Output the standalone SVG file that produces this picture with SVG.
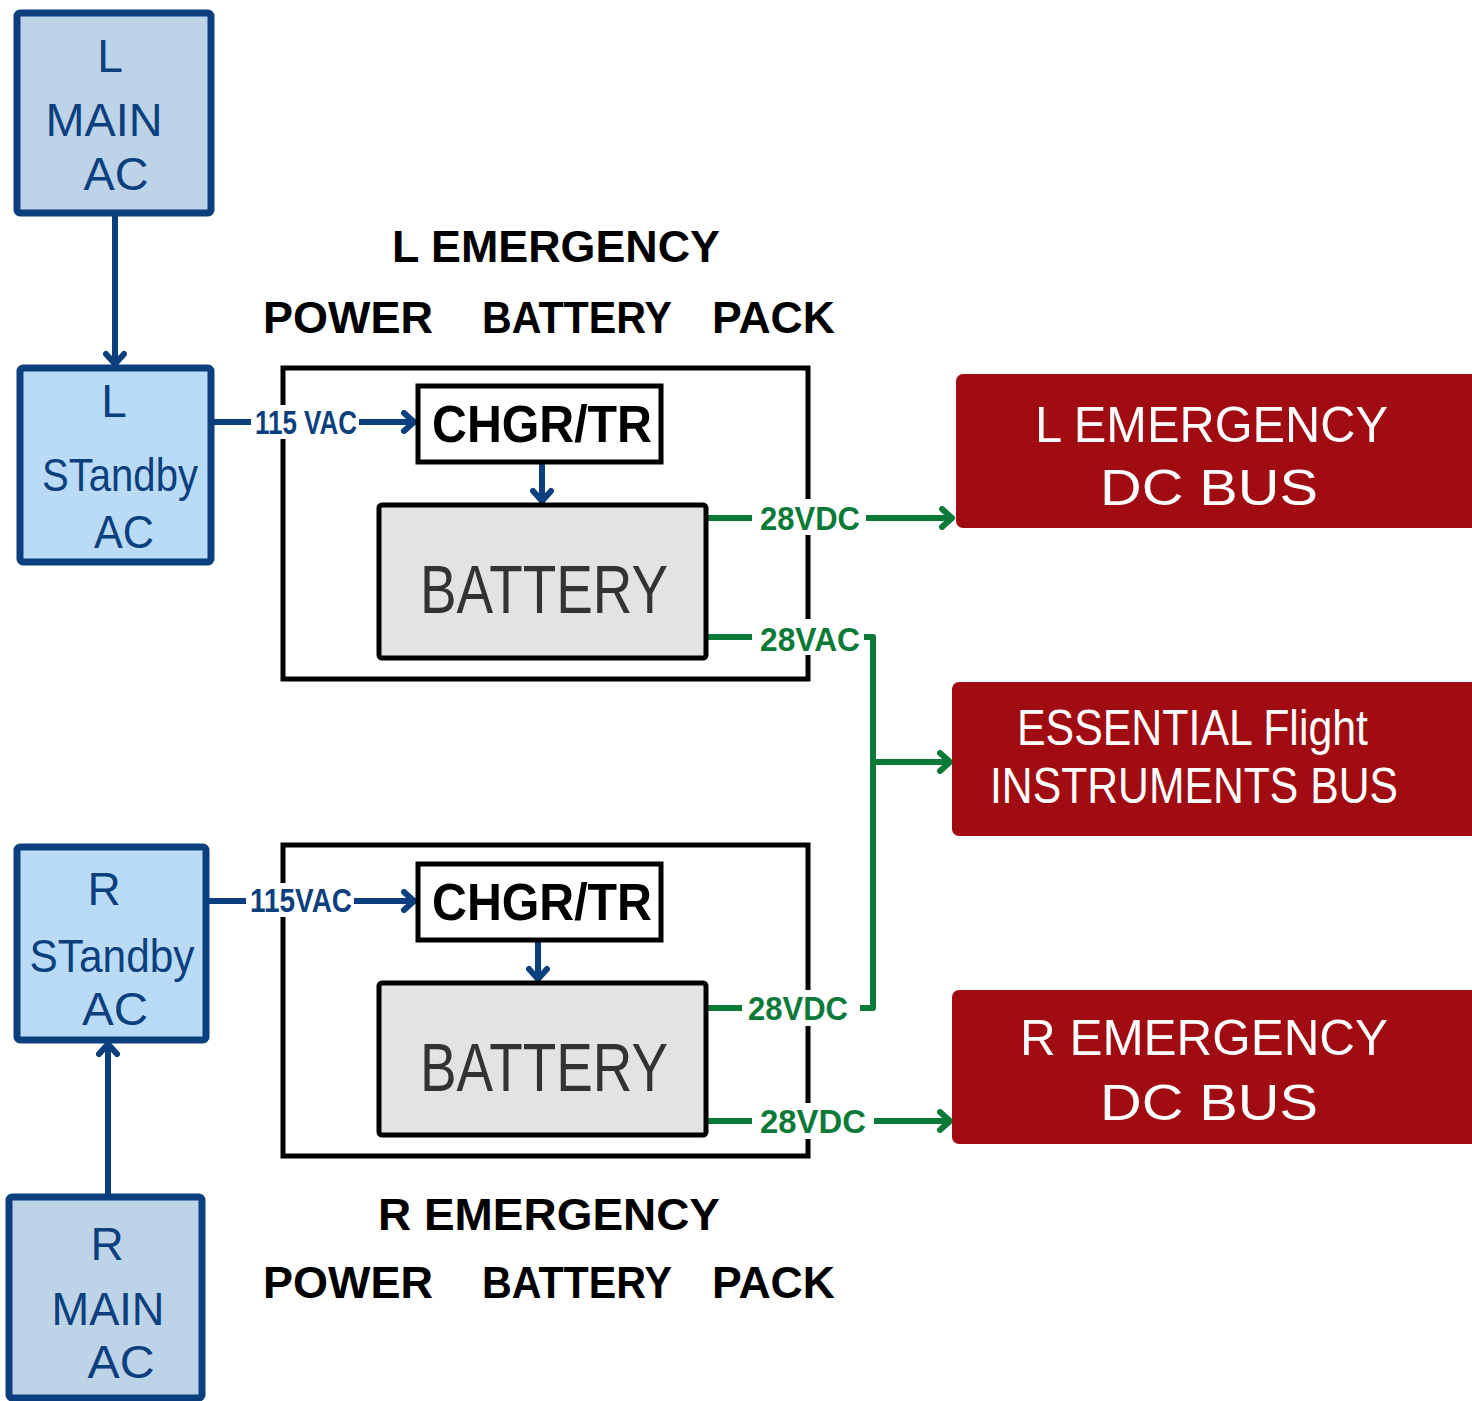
<svg xmlns="http://www.w3.org/2000/svg" width="1472" height="1401" viewBox="0 0 1472 1401">
<style>
.ac{stroke:#0c3f7e;stroke-width:7;stroke-linejoin:round}
.main{fill:#bcd3e8}
.stby{fill:#b9dbf6}
.pack{fill:#fff;stroke:#000;stroke-width:5}
.chgr{fill:#fff;stroke:#000;stroke-width:5}
.batt{fill:#e3e3e3;stroke:#000;stroke-width:5}
.bus{fill:#a10c12}
.bt{font-family:"Liberation Sans",Arial,sans-serif;fill:#0c3f7e;font-size:46px;text-anchor:middle}
.title{font-family:"Liberation Sans",Arial,sans-serif;font-weight:bold;fill:#000;font-size:44px}
.ct{font-family:"Liberation Sans",Arial,sans-serif;font-weight:bold;fill:#000;font-size:52px}
.battt{font-family:"Liberation Sans",Arial,sans-serif;fill:#333;font-size:68px}
.wt{font-family:"Liberation Sans",Arial,sans-serif;fill:#fff;font-size:50px}
.bl{stroke:#0c3f7e;stroke-width:6;fill:none;stroke-linecap:round;stroke-linejoin:round}
.gl{stroke:#0b7a38;stroke-width:6;fill:none;stroke-linejoin:round}
.lblb{font-family:"Liberation Sans",Arial,sans-serif;font-weight:bold;fill:#0c3f7e;font-size:34px}
.lblg{font-family:"Liberation Sans",Arial,sans-serif;font-weight:bold;fill:#0b7a38;font-size:34px}
</style>
<defs>
<marker id="ab" markerUnits="userSpaceOnUse" markerWidth="24" markerHeight="24" refX="20" refY="12" orient="auto" viewBox="0 0 24 24">
<path d="M10,3 L20,12 L10,21" fill="none" stroke="#0c3f7e" stroke-width="6" stroke-linecap="round" stroke-linejoin="round"/>
</marker>
<marker id="ag" markerUnits="userSpaceOnUse" markerWidth="24" markerHeight="24" refX="20" refY="12" orient="auto" viewBox="0 0 24 24">
<path d="M10,3 L20,12 L10,21" fill="none" stroke="#0b7a38" stroke-width="6" stroke-linecap="round" stroke-linejoin="round"/>
</marker>
</defs>
<rect width="1472" height="1401" fill="#fff"/>

<g id="l-pack">
<rect class="pack" x="283" y="368" width="525" height="311"/>
<text class="title" x="392" y="262" textLength="328" lengthAdjust="spacingAndGlyphs">L EMERGENCY</text>
<text class="title" x="263" y="333" textLength="170" lengthAdjust="spacingAndGlyphs">POWER</text>
<text class="title" x="482" y="333" textLength="190" lengthAdjust="spacingAndGlyphs">BATTERY</text>
<text class="title" x="712" y="333" textLength="123" lengthAdjust="spacingAndGlyphs">PACK</text>
</g>
<g id="r-pack">
<rect class="pack" x="283" y="845" width="525" height="311"/>
<text class="title" x="378" y="1230" textLength="342" lengthAdjust="spacingAndGlyphs">R EMERGENCY</text>
<text class="title" x="263" y="1298" textLength="170" lengthAdjust="spacingAndGlyphs">POWER</text>
<text class="title" x="482" y="1298" textLength="190" lengthAdjust="spacingAndGlyphs">BATTERY</text>
<text class="title" x="712" y="1298" textLength="123" lengthAdjust="spacingAndGlyphs">PACK</text>
</g>

<g id="connectors">
<path class="bl" d="M115,213 V364" marker-end="url(#ab)"/>
<path class="bl" d="M108,1197 V1044" marker-end="url(#ab)"/>
<path class="bl" d="M211,422 H414" marker-end="url(#ab)"/>
<path class="bl" d="M206,901 H414" marker-end="url(#ab)"/>
<path class="bl" d="M542,462 V501" marker-end="url(#ab)"/>
<path class="bl" d="M538,940 V979" marker-end="url(#ab)"/>
<path class="gl" d="M706,518 H952" marker-end="url(#ag)"/>
<path class="gl" d="M706,637 H873 V1008 H706"/>
<path class="gl" d="M873,762 H950" marker-end="url(#ag)"/>
<path class="gl" d="M706,1121 H950" marker-end="url(#ag)"/>
<rect x="251" y="405" width="108" height="34" fill="#fff"/>
<text class="lblb" x="255" y="434" textLength="102" lengthAdjust="spacingAndGlyphs">115 VAC</text>
<rect x="246" y="883" width="108" height="34" fill="#fff"/>
<text class="lblb" x="250" y="912" textLength="102" lengthAdjust="spacingAndGlyphs">115VAC</text>
<rect x="752" y="499" width="114" height="36" fill="#fff"/>
<text class="lblg" x="760" y="530" textLength="100" lengthAdjust="spacingAndGlyphs">28VDC</text>
<rect x="752" y="619" width="112" height="36" fill="#fff"/>
<text class="lblg" x="760" y="651" textLength="100" lengthAdjust="spacingAndGlyphs">28VAC</text>
<rect x="742" y="990" width="118" height="36" fill="#fff"/>
<text class="lblg" x="748" y="1020" textLength="100" lengthAdjust="spacingAndGlyphs">28VDC</text>
<rect x="752" y="1103" width="122" height="36" fill="#fff"/>
<text class="lblg" x="760" y="1133" textLength="106" lengthAdjust="spacingAndGlyphs">28VDC</text>
</g>

<g id="l-main-ac">
<rect class="main ac" x="17" y="13" width="194" height="200" rx="3"/>
<text class="bt" x="110" y="72">L</text>
<text class="bt" x="104" y="136" textLength="117" lengthAdjust="spacingAndGlyphs">MAIN</text>
<text class="bt" x="116" y="190" textLength="65" lengthAdjust="spacingAndGlyphs">AC</text>
</g>
<g id="l-standby-ac">
<rect class="stby ac" x="20" y="368" width="191" height="194" rx="3"/>
<text class="bt" x="114" y="417" font-size="40">L</text>
<text class="bt" x="120" y="491" textLength="156" lengthAdjust="spacingAndGlyphs">STandby</text>
<text class="bt" x="124" y="548" textLength="60" lengthAdjust="spacingAndGlyphs">AC</text>
</g>
<g id="r-standby-ac">
<rect class="stby ac" x="17" y="847" width="189" height="193" rx="3"/>
<text class="bt" x="104" y="905">R</text>
<text class="bt" x="112" y="972" textLength="165" lengthAdjust="spacingAndGlyphs">STandby</text>
<text class="bt" x="115" y="1025" textLength="66" lengthAdjust="spacingAndGlyphs">AC</text>
</g>
<g id="r-main-ac">
<rect class="main ac" x="9" y="1197" width="193" height="201" rx="3"/>
<text class="bt" x="107" y="1260">R</text>
<text class="bt" x="108" y="1325" textLength="113" lengthAdjust="spacingAndGlyphs">MAIN</text>
<text class="bt" x="121" y="1378" textLength="67" lengthAdjust="spacingAndGlyphs">AC</text>
</g>

<g id="l-chgr">
<rect class="chgr" x="418" y="386" width="243" height="76"/>
<text class="ct" x="432" y="442" textLength="220" lengthAdjust="spacingAndGlyphs">CHGR/TR</text>
</g>
<g id="l-battery">
<rect class="batt" x="379" y="505" width="327" height="153" rx="3"/>
<text class="battt" x="420" y="613" textLength="248" lengthAdjust="spacingAndGlyphs">BATTERY</text>
</g>
<g id="r-chgr">
<rect class="chgr" x="418" y="864" width="243" height="76"/>
<text class="ct" x="432" y="920" textLength="220" lengthAdjust="spacingAndGlyphs">CHGR/TR</text>
</g>
<g id="r-battery">
<rect class="batt" x="379" y="983" width="327" height="152" rx="3"/>
<text class="battt" x="420" y="1091" textLength="248" lengthAdjust="spacingAndGlyphs">BATTERY</text>
</g>

<g id="l-emergency-dc-bus">
<rect class="bus" x="956" y="374" width="522" height="154" rx="7"/>
<text class="wt" x="1035" y="442" textLength="353" lengthAdjust="spacingAndGlyphs">L EMERGENCY</text>
<text class="wt" x="1100" y="505" textLength="218" lengthAdjust="spacingAndGlyphs">DC BUS</text>
</g>
<g id="essential-flight-instruments-bus">
<rect class="bus" x="952" y="682" width="526" height="154" rx="7"/>
<text class="wt" x="1017" y="745" textLength="351" lengthAdjust="spacingAndGlyphs">ESSENTIAL Flight</text>
<text class="wt" x="990" y="803" textLength="408" lengthAdjust="spacingAndGlyphs">INSTRUMENTS BUS</text>
</g>
<g id="r-emergency-dc-bus">
<rect class="bus" x="952" y="990" width="526" height="154" rx="7"/>
<text class="wt" x="1020" y="1055" textLength="368" lengthAdjust="spacingAndGlyphs">R EMERGENCY</text>
<text class="wt" x="1100" y="1120" textLength="218" lengthAdjust="spacingAndGlyphs">DC BUS</text>
</g>
</svg>
